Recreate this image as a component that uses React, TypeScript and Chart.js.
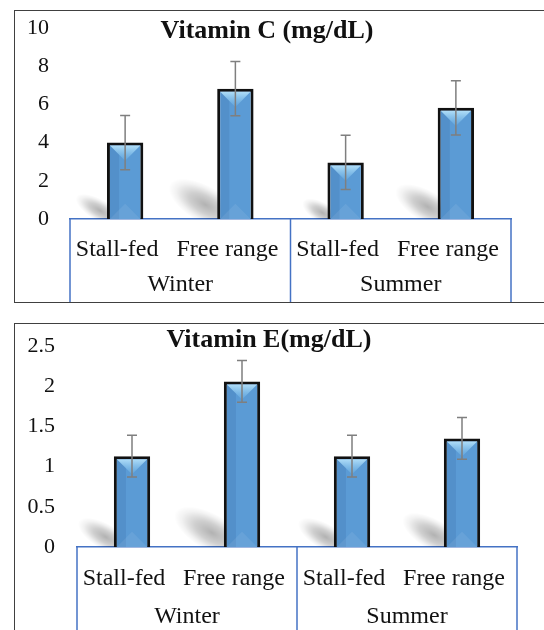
import React, { useEffect, useRef } from 'react';
import { Chart, registerables } from 'chart.js';

Chart.register(...registerables);

// ---------- data ----------
const categories = ['Stall-fed', 'Free range', 'Stall-fed', 'Free range'];
const seasons = ['Winter', 'Summer'];

const vitaminCTitle = 'Vitamin C (mg/dL)';
const vitaminCMeans = [4.0, 6.82, 2.96, 5.82];
const vitaminCErrors = [1.42, 1.42, 1.42, 1.42];
const vitaminCTicks = [0, 2, 4, 6, 8, 10];

const vitaminETitle = 'Vitamin E(mg/dL)';
const vitaminEMeans = [1.13, 2.06, 1.13, 1.35];
const vitaminEErrors = [0.26, 0.26, 0.26, 0.26];
const vitaminETicks = [0, 0.5, 1, 1.5, 2, 2.5];

// ---------- style / layout ----------
const FONT = "'Liberation Serif', 'Times New Roman', serif";
const TEXT = '#111111';
const BLUE = '#4472C4';
const FRAME = '#404040';

type Layout = {
  canvasTop: number;
  canvasHeight: number;
  padTop: number;
  padBottom: number;
  padRight: number;
  yWidth: number;
  yTickPad: number;
  xHeight: number;
  xPad: number;
  x2Height: number;
  x2Pad: number;
  titleX: number;
  titleY: number;
};

const layoutC: Layout = {
  canvasTop: 0, canvasHeight: 303, padTop: 28, padBottom: 1, padRight: 33,
  yWidth: 70, yTickPad: 21, xHeight: 47, xPad: 16.6, x2Height: 36, x2Pad: 4.6,
  titleX: 267, titleY: 31.5,
};

const layoutE: Layout = {
  canvasTop: 310, canvasHeight: 340, padTop: 36, padBottom: 0, padRight: 27,
  yWidth: 77, yTickPad: 22, xHeight: 51, xPad: 17.6, x2Height: 52, x2Pad: 4.6,
  titleX: 269, titleY: 30.5,
};

function barRect(el: any) {
  const p = el.getProps(['x', 'y', 'base', 'width'], true);
  const left = p.x - p.width / 2;
  const right = p.x + p.width / 2;
  const top = Math.min(p.y, p.base);
  const bottom = Math.max(p.y, p.base);
  return { left, right, top, bottom, cx: p.x };
}

function makePlugins(layout: Layout, title: string, means: number[], errors: number[]) {
  const shadowPlugin = {
    id: 'barShadow',
    beforeDatasetsDraw(chart: any) {
      const { ctx, chartArea } = chart;
      const meta = chart.getDatasetMeta(0);
      ctx.save();
      ctx.beginPath();
      ctx.rect(chartArea.left, chartArea.top, chartArea.right - chartArea.left, chartArea.bottom - chartArea.top);
      ctx.clip();
      meta.data.forEach((el: any) => {
        const r = barRect(el);
        const h = r.bottom - r.top;
        const sx = Math.min(0.3 * h, 40);
        const sy = Math.min(0.2 * h, 26);
        const cx = r.left - sx * 0.3;
        const cy = r.bottom - sy * 0.55;
        const rx = sx * 0.85 + 8;
        const ry = Math.max(sy * 0.7, 10);
        ctx.save();
        ctx.translate(cx, cy);
        ctx.rotate(Math.atan2(sy, sx) * 0.9);
        ctx.scale(rx, ry);
        const g = ctx.createRadialGradient(0, 0, 0, 0, 0, 1);
        g.addColorStop(0, 'rgba(0,0,0,0.30)');
        g.addColorStop(0.45, 'rgba(0,0,0,0.19)');
        g.addColorStop(0.8, 'rgba(0,0,0,0.05)');
        g.addColorStop(1, 'rgba(0,0,0,0)');
        ctx.fillStyle = g;
        ctx.beginPath();
        ctx.arc(0, 0, 1, 0, Math.PI * 2);
        ctx.fill();
        ctx.restore();
      });
      ctx.restore();
    },
  };

  const decorPlugin = {
    id: 'barDecor',
    afterDatasetsDraw(chart: any) {
      const { ctx } = chart;
      const meta = chart.getDatasetMeta(0);
      const yScale = chart.scales.y;
      const bw = 3;
      // bevel
      meta.data.forEach((el: any) => {
        const r = barRect(el);
        const il = r.left + bw;
        const ir = r.right - bw;
        const it = r.top + bw;
        const ib = r.bottom;
        const iw = ir - il;
        ctx.save();
        ctx.beginPath();
        ctx.rect(il, it, iw, ib - it);
        ctx.clip();
        ctx.fillStyle = 'rgba(20,50,110,0.10)';
        ctx.fillRect(il, it, iw * 0.3, ib - it);
        const g = ctx.createLinearGradient(0, it, 0, it + iw * 0.5);
        g.addColorStop(0, '#B0DEF8');
        g.addColorStop(1, 'rgba(100,170,225,0.6)');
        ctx.fillStyle = g;
        ctx.beginPath();
        ctx.moveTo(il, it);
        ctx.lineTo(ir, it);
        ctx.lineTo(r.cx, it + iw * 0.5);
        ctx.closePath();
        ctx.fill();
        ctx.fillStyle = 'rgba(255,255,255,0.08)';
        ctx.beginPath();
        ctx.moveTo(il, ib);
        ctx.lineTo(ir, ib);
        ctx.lineTo(r.cx, ib - iw * 0.5);
        ctx.closePath();
        ctx.fill();
        ctx.restore();
      });
      // error bars
      ctx.save();
      ctx.strokeStyle = '#7F7F7F';
      ctx.lineWidth = 1.5;
      meta.data.forEach((el: any, i: number) => {
        const x = el.x;
        const yHi = yScale.getPixelForValue(means[i] + errors[i]);
        const yLo = yScale.getPixelForValue(means[i] - errors[i]);
        ctx.beginPath();
        ctx.moveTo(x, yHi);
        ctx.lineTo(x, yLo);
        ctx.moveTo(x - 5, yHi);
        ctx.lineTo(x + 5, yHi);
        ctx.moveTo(x - 5, yLo);
        ctx.lineTo(x + 5, yLo);
        ctx.stroke();
      });
      ctx.restore();
    },
  };

  const separatorPlugin = {
    id: 'groupSeparators',
    afterDraw(chart: any) {
      const { ctx } = chart;
      const xs = chart.scales.x;
      const x2 = chart.scales.x2;
      const mid = (xs.getPixelForValue(1) + xs.getPixelForValue(2)) / 2;
      ctx.save();
      ctx.strokeStyle = BLUE;
      ctx.lineWidth = 1.5;
      [xs.left, mid, xs.right].forEach((px: number) => {
        ctx.beginPath();
        ctx.moveTo(px, xs.top);
        ctx.lineTo(px, x2.bottom);
        ctx.stroke();
      });
      ctx.restore();
    },
  };

  const titlePlugin = {
    id: 'panelTitle',
    afterDraw(chart: any) {
      const { ctx } = chart;
      ctx.save();
      ctx.font = `bold 26px ${FONT}`;
      ctx.fillStyle = TEXT;
      ctx.textAlign = 'center';
      ctx.textBaseline = 'middle';
      ctx.fillText(title, layout.titleX, layout.titleY);
      ctx.restore();
    },
  };

  return [shadowPlugin, decorPlugin, separatorPlugin, titlePlugin];
}

function Panel(props: { layout: Layout; title: string; means: number[]; errors: number[]; ticks: number[] }) {
  const { layout, title, means, errors, ticks } = props;
  const ref = useRef<HTMLCanvasElement>(null);

  useEffect(() => {
    const chart = new Chart(ref.current as HTMLCanvasElement, {
      type: 'bar',
      data: {
        labels: categories,
        datasets: [
          {
            data: means,
            backgroundColor: '#5B9BD5',
            borderColor: '#111111',
            borderWidth: 3,
            barPercentage: 0.33,
            categoryPercentage: 1,
          },
        ],
      },
      options: {
        responsive: false,
        animation: false,
        devicePixelRatio: 1,
        events: [],
        layout: { padding: { top: layout.padTop, bottom: layout.padBottom, left: 0, right: layout.padRight } },
        plugins: {
          legend: { display: false },
          tooltip: { enabled: false },
          title: { display: false },
        },
        scales: {
          x: {
            type: 'category',
            position: 'bottom',
            weight: 0,
            offset: true,
            grid: { display: false, drawTicks: false },
            border: { display: true, color: BLUE, width: 1.5 },
            ticks: {
              font: { family: FONT, size: 24 },
              color: TEXT,
              padding: layout.xPad,
              labelOffset: -8,
              maxRotation: 0,
              autoSkip: false,
            },
            afterFit: (s: any) => { s.height = layout.xHeight; },
          },
          x2: {
            type: 'category',
            labels: seasons,
            position: 'bottom',
            weight: 1,
            offset: true,
            grid: { display: false, drawTicks: false },
            border: { display: false },
            ticks: {
              font: { family: FONT, size: 24 },
              color: TEXT,
              padding: layout.x2Pad,
              maxRotation: 0,
              autoSkip: false,
            },
            afterFit: (s: any) => { s.height = layout.x2Height; },
          },
          y: {
            type: 'linear',
            min: ticks[0],
            max: ticks[ticks.length - 1],
            grid: { display: false, drawTicks: false },
            border: { display: false },
            ticks: {
              font: { family: FONT, size: 22 },
              color: TEXT,
              padding: layout.yTickPad,
              callback: (v: any) => String(v),
            },
            afterBuildTicks: (s: any) => { s.ticks = ticks.map((v) => ({ value: v })); },
            afterFit: (s: any) => {
              s.width = layout.yWidth;
              s.paddingTop = 0;
              s.paddingBottom = 0;
            },
          },
        },
      } as any,
      plugins: makePlugins(layout, title, means, errors) as any,
    });
    return () => chart.destroy();
  }, []);

  return (
    <canvas
      ref={ref}
      width={544}
      height={layout.canvasHeight}
      style={{ position: 'absolute', left: 0, top: layout.canvasTop, width: 544, height: layout.canvasHeight, display: 'block' }}
    />
  );
}

export default function App() {
  return (
    <div style={{ position: 'fixed', left: 0, top: 0, width: 544, height: 630, overflow: 'hidden', background: '#ffffff' }}>
      <div style={{ position: 'absolute', left: 14, top: 10, width: 600, height: 293, boxSizing: 'border-box', border: `1px solid ${FRAME}` }} />
      <div style={{ position: 'absolute', left: 14, top: 323, width: 600, height: 400, boxSizing: 'border-box', border: `1px solid ${FRAME}` }} />
      <Panel layout={layoutC} title={vitaminCTitle} means={vitaminCMeans} errors={vitaminCErrors} ticks={vitaminCTicks} />
      <Panel layout={layoutE} title={vitaminETitle} means={vitaminEMeans} errors={vitaminEErrors} ticks={vitaminETicks} />
    </div>
  );
}
